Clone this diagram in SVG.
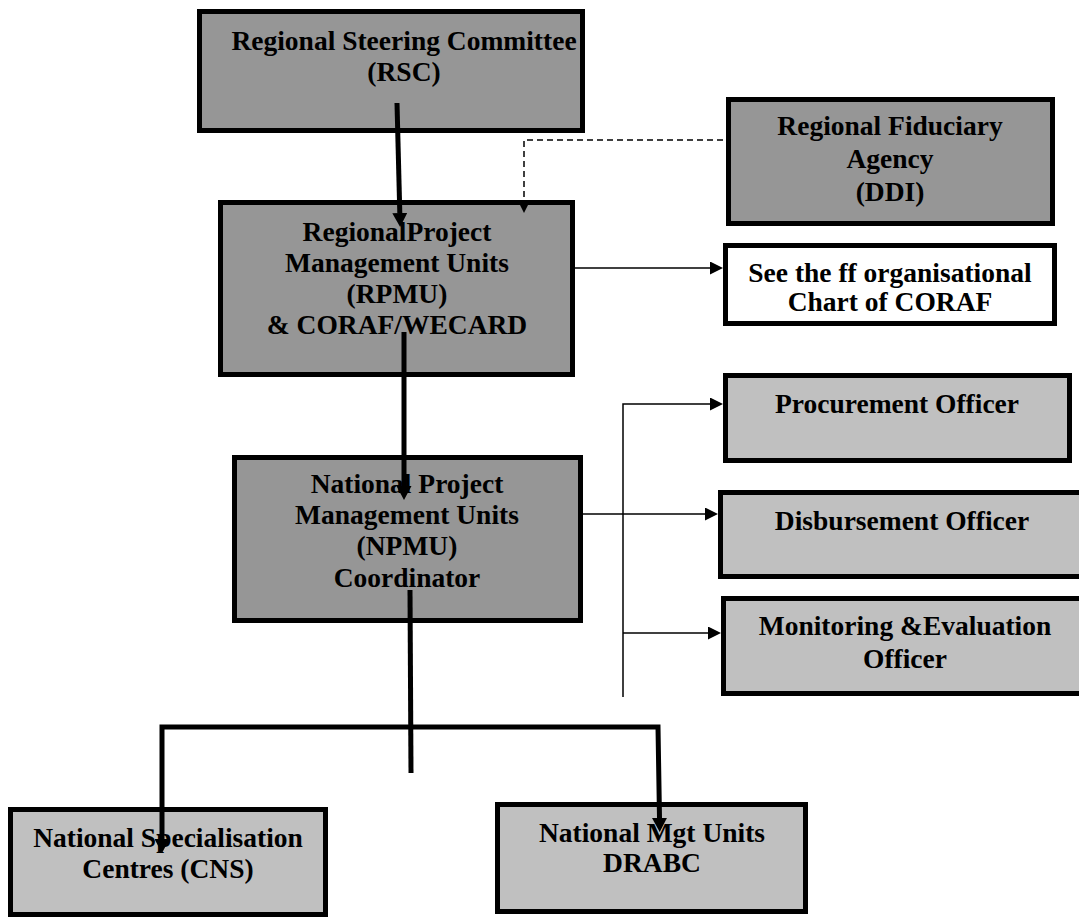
<svg xmlns="http://www.w3.org/2000/svg" width="1079" height="918" viewBox="0 0 1079 918">
<style>
.box{stroke:#000;stroke-width:5}
.dark{fill:#969696}
.light{fill:#c0c0c0}
.white{fill:#fff}
text{font-family:"Liberation Serif","Times New Roman",serif;font-weight:bold;font-size:27.5px;text-anchor:middle;fill:#000}
.thick{stroke:#000;stroke-width:5;fill:none}
.thin{stroke:#000;stroke-width:1.5;fill:none}
.dash{stroke:#000;stroke-width:1.5;fill:none;stroke-dasharray:6 4}
</style>
<defs>
<marker id="ah" markerUnits="userSpaceOnUse" markerWidth="14" markerHeight="15" viewBox="0 0 14 15" refX="0" refY="7.5" orient="auto-start-reverse">
<path d="M0,0 L14,7.5 L0,15 z" fill="#000"/>
</marker>
<marker id="at" markerUnits="userSpaceOnUse" markerWidth="13" markerHeight="13" viewBox="0 0 13 13" refX="0" refY="6.5" orient="auto">
<path d="M0,0 L13,6.5 L0,13 z" fill="#000"/>
</marker>
</defs>
<rect width="1079" height="918" fill="#fff"/>

<g id="rsc">
<rect class="box dark" x="199.5" y="11.5" width="383" height="119"/>
<text x="404" y="50">Regional Steering Committee</text>
<text x="404" y="81">(RSC)</text>
</g>

<g id="ddi">
<rect class="box dark" x="728.5" y="99.5" width="324" height="124"/>
<text x="890" y="135">Regional Fiduciary</text>
<text x="890" y="168">Agency</text>
<text x="890" y="201">(DDI)</text>
</g>

<g id="rpmu">
<rect class="box dark" x="220.5" y="202.5" width="352" height="172"/>
<text x="397" y="241">RegionalProject</text>
<text x="397" y="272">Management Units</text>
<text x="397" y="303">(RPMU)</text>
<text x="397" y="334">&amp; CORAF/WECARD</text>
</g>

<g id="coraf">
<rect class="box white" x="725.5" y="245.5" width="329" height="78"/>
<text x="890" y="282">See the ff organisational</text>
<text x="890" y="311">Chart of CORAF</text>
</g>

<g id="procurement">
<rect class="box light" x="725.5" y="375.5" width="344" height="85"/>
<text x="897" y="413">Procurement Officer</text>
</g>

<g id="disbursement">
<rect class="box light" x="720.5" y="492.5" width="370" height="84"/>
<text x="902" y="530">Disbursement Officer</text>
</g>

<g id="me">
<rect class="box light" x="723.5" y="598.5" width="370" height="95"/>
<text x="905" y="635">Monitoring &amp;Evaluation</text>
<text x="905" y="668">Officer</text>
</g>

<g id="npmu">
<rect class="box dark" x="234.5" y="457.5" width="346" height="163"/>
<text x="407" y="493">National Project</text>
<text x="407" y="524">Management Units</text>
<text x="407" y="555">(NPMU)</text>
<text x="407" y="587">Coordinator</text>
</g>

<g id="cns">
<rect class="box light" x="10.5" y="809.5" width="315" height="105"/>
<text x="168" y="847">National Specialisation</text>
<text x="168" y="878">Centres (CNS)</text>
</g>

<g id="nmu">
<rect class="box light" x="497.5" y="804.5" width="308" height="107"/>
<text x="652" y="842">National Mgt Units</text>
<text x="652" y="872">DRABC</text>
</g>

<g id="connectors">
<path class="thick" d="M397,103 L399.8,213" marker-end="url(#ah)"/>
<path class="thick" d="M404,332 L404,486" marker-end="url(#ah)"/>
<path class="thick" d="M410,590 L411,773"/>
<path class="thick" d="M162,839 L162,727 L658,727 L659.5,818" marker-start="url(#ah)" marker-end="url(#ah)"/>
<path class="dash" d="M723,140 L524,140 L524,200"/>
<path d="M517.5,200 L530.5,200 L524,213 z" fill="#000"/>
<path class="thin" d="M575,268 L710,268" marker-end="url(#at)"/>
<path class="thin" d="M583,514 L705,514" marker-end="url(#at)"/>
<path class="thin" d="M623,697 L623,404 L710,404" marker-end="url(#at)"/>
<path class="thin" d="M623,633 L708,633" marker-end="url(#at)"/>
</g>
</svg>
